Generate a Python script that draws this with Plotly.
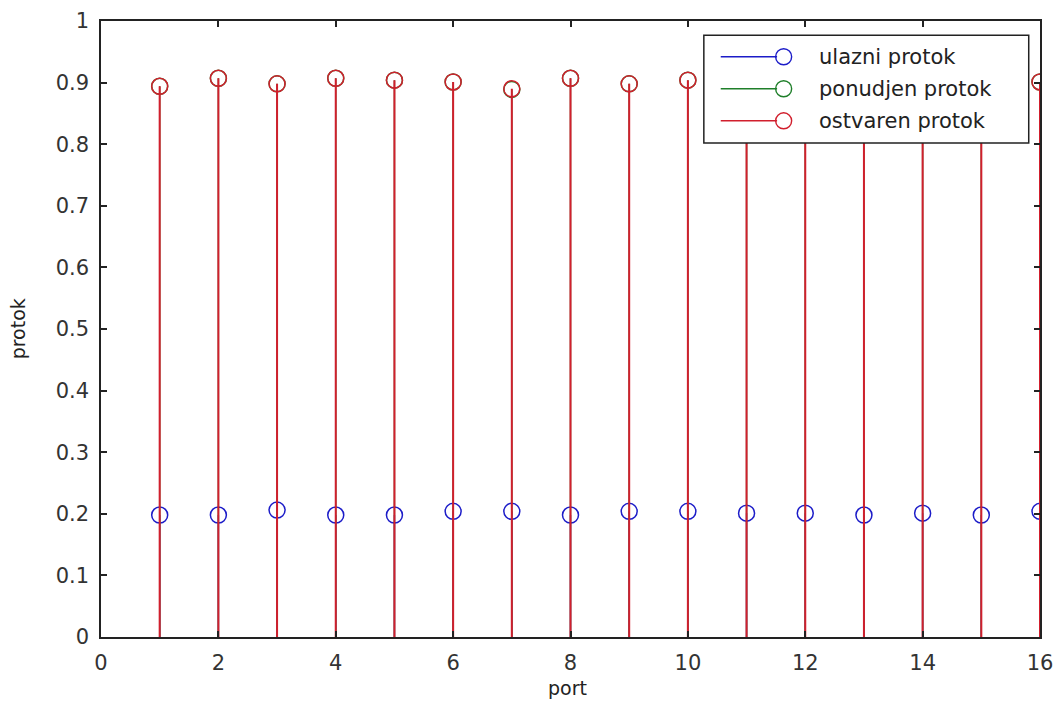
import plotly.graph_objects as go

# Throughput per switch port
ports = list(range(1, 17))
ulazni = [0.198, 0.198, 0.206, 0.198, 0.198, 0.204, 0.204, 0.198,
          0.204, 0.204, 0.201, 0.201, 0.198, 0.201, 0.198, 0.204]
ponudjen = [0.894, 0.907, 0.898, 0.907, 0.904, 0.901, 0.889, 0.907,
            0.898, 0.904, 0.901, 0.898, 0.904, 0.907, 0.901, 0.901]
ostvaren = [0.894, 0.907, 0.898, 0.907, 0.904, 0.901, 0.890, 0.907,
            0.898, 0.904, 0.901, 0.898, 0.904, 0.907, 0.901, 0.901]

series = [
    ("ulazni protok", ulazni, "#1c1cc8", 1.4),
    ("ponudjen protok", ponudjen, "#1f7f2a", 1.4),
    ("ostvaren protok", ostvaren, "#d11f2d", 2.0),
]

FONT = "DejaVu Sans"
fig = go.Figure()

for name, vals, col, w in series:
    xs, ys = [], []
    for p, v in zip(ports, vals):
        xs += [p, p, None]
        ys += [0, v, None]
    fig.add_trace(go.Scatter(x=xs, y=ys, mode="lines",
                             line=dict(color=col, width=w),
                             hoverinfo="skip", showlegend=False))
    fig.add_trace(go.Scatter(x=ports, y=vals, mode="markers", name=name,
                             marker=dict(symbol="circle-open", size=16,
                                         color=col, line=dict(width=1.5, color=col)),
                             showlegend=False))

axis_common = dict(showline=True, linecolor="#222", linewidth=1.5, mirror="allticks",
                   ticks="inside", ticklen=6, tickcolor="#222", tickwidth=1.5,
                   showgrid=False, zeroline=False,
                   tickfont=dict(family=FONT, size=21, color="#333"),
                   ticklabelstandoff=6)

fig.update_xaxes(range=[0, 16], dtick=2, tick0=0, **axis_common)
fig.update_yaxes(range=[0, 1], dtick=0.1, tick0=0, tickformat="~g", **axis_common)

# legend box drawn in paper coordinates
shapes = [dict(type="rect", xref="paper", yref="paper", x0=0.642, x1=0.988,
               y0=0.802, y1=0.977, line=dict(color="#222", width=1.5),
               fillcolor="white", layer="above")]
annotations = []
rows_y = [0.942, 0.890, 0.838]
for (name, vals, col, w), yy in zip(series, rows_y):
    shapes.append(dict(type="line", xref="paper", yref="paper", x0=0.660, x1=0.720,
                       y0=yy, y1=yy, line=dict(color=col, width=1.4), layer="above"))
    r_x = 8 / 939
    r_y = 8 / 616
    shapes.append(dict(type="circle", xref="paper", yref="paper",
                       x0=0.727 - r_x, x1=0.727 + r_x, y0=yy - r_y, y1=yy + r_y,
                       line=dict(color=col, width=1.4), layer="above"))
    annotations.append(dict(text=name, xref="paper", yref="paper", x=0.763, y=yy,
                            xanchor="left", yanchor="middle", showarrow=False,
                            font=dict(family=FONT, size=21, color="#222")))

annotations.append(dict(text="port", xref="paper", yref="paper", x=0.497, y=-0.083,
                        xanchor="center", yanchor="middle", showarrow=False,
                        font=dict(family=FONT, size=19, color="#222")))
annotations.append(dict(text="protok", xref="paper", yref="paper", x=-0.088, y=0.5,
                        xanchor="center", yanchor="middle", showarrow=False, textangle=-90,
                        font=dict(family=FONT, size=19, color="#222")))

fig.update_layout(width=1055, height=701,
                  margin=dict(l=101, r=15, t=21, b=64, autoexpand=False),
                  paper_bgcolor="white", plot_bgcolor="white",
                  shapes=shapes, annotations=annotations, showlegend=False)

fig.write_html("out.html")
